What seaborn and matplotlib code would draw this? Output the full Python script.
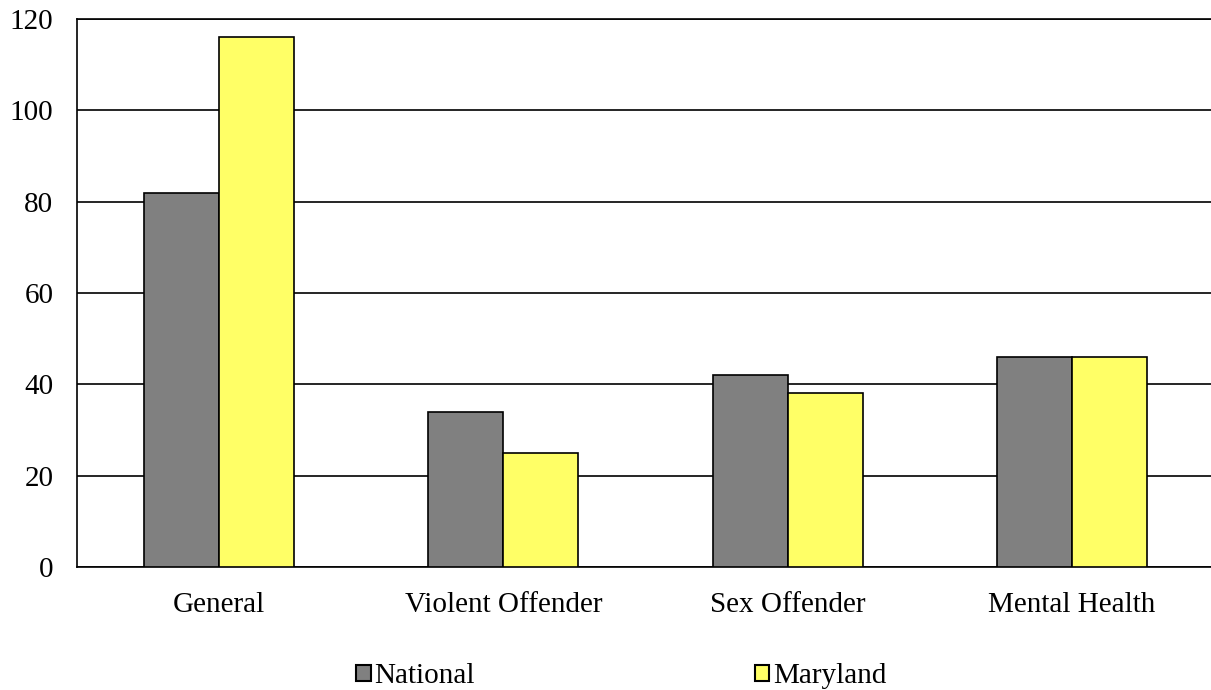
import matplotlib
matplotlib.use("Agg")
import matplotlib.pyplot as plt
import seaborn as sns
import pandas as pd
from matplotlib.patches import Patch

categories = ["General", "Violent Offender", "Sex Offender", "Mental Health"]
national = [82, 34, 42, 46]
maryland = [116, 25, 38, 46]
series_names = ["National", "Maryland"]
y_ticks = [0, 20, 40, 60, 80, 100, 120]
colors = ["#808080", "#FFFF66"]

df = pd.DataFrame({
    "category": categories * 2,
    "value": national + maryland,
    "series": [series_names[0]] * len(categories) + [series_names[1]] * len(categories),
})

sns.set_theme(style="white")
plt.rcParams["font.family"] = ["Liberation Serif", "DejaVu Serif"]
plt.rcParams["text.color"] = "black"

fig = plt.figure(figsize=(12.11, 6.9), dpi=100)
ax = fig.add_axes([0.0636, 0.1783, 0.9389, 0.7942])

sns.barplot(
    data=df, x="category", y="value", hue="series",
    order=categories, hue_order=series_names,
    palette=colors, width=0.527, gap=0,
    edgecolor="black", linewidth=1.2, saturation=1, ax=ax, legend=False,
    zorder=3,
)

ax.set_ylim(0, 120)
ax.set_yticks(y_ticks)
ax.set_xlim(-0.5, len(categories) - 0.5)
ax.set_xlabel("")
ax.set_ylabel("")
ax.yaxis.grid(True, color="black", linewidth=1.2, zorder=0)
ax.set_axisbelow(True)
ax.spines["right"].set_visible(False)
for side in ["left", "bottom", "top"]:
    ax.spines[side].set_color("black")
    ax.spines[side].set_linewidth(1.2)
ax.tick_params(axis="y", length=0, pad=17, labelsize=21, colors="black")
ax.tick_params(axis="x", length=0, pad=18, labelsize=21, colors="black")

handles = [Patch(facecolor=c, edgecolor="black", linewidth=1.5) for c in colors]
fig.legend(handles, series_names, loc="center", bbox_to_anchor=(0.513, 0.02),
           ncol=2, frameon=False, fontsize=21, handlelength=0.5, handleheight=0.5,
           handletextpad=0.12, columnspacing=9.6, borderpad=0,
           labelcolor="black")

fig.savefig("out.png", dpi=100)
